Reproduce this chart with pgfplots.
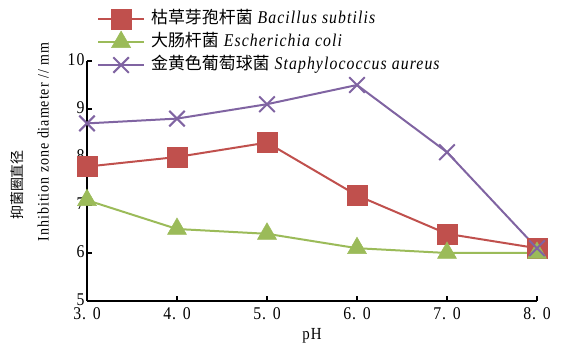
\documentclass[border=0pt]{standalone}
\usepackage{pgfplots}
\pgfplotsset{compat=1.18}
\usepackage{fontspec}
\setmainfont[FakeStretch=0.88, LetterSpace=6]{Liberation Serif}
\newfontfamily\cjk{Noto Sans CJK SC}
\definecolor{cred}{HTML}{C0504D}
\definecolor{cgreen}{HTML}{9BBB59}
\definecolor{cpurple}{HTML}{8064A2}

\begin{document}
\begin{tikzpicture}
\useasboundingbox (-87bp,-43bp) rectangle (482bp,301bp);
\begin{axis}[
  scale only axis, width=450bp, height=240bp,
  at={(0,0)}, anchor=south west,
  xmin=3, xmax=8, ymin=5, ymax=10,
  axis lines=left,
  axis line style={-, line width=1.4bp, black},
  tick align=inside, major tick length=5bp,
  tick style={black, line width=1.1bp},
  xtick={3,4,5,6,7,8},
  xticklabels={3. 0,4. 0,5. 0,6. 0,7. 0,8. 0},
  ytick={5,6,7,8,9,10},
  /pgf/number format/assume math mode=true,
  tick label style={font=\fontsize{18}{18}\selectfont},
  xticklabel style={yshift=-3bp},
  yticklabel style={xshift=1bp, yshift=1.5bp},
  xlabel={pH},
  xlabel style={font=\fontsize{17}{17}\selectfont, yshift=-2bp},
  ylabel={{\cjk\fontsize{14}{14}\selectfont 抑菌圈直径}\hspace*{86bp}\\Inhibition zone diameter // mm},
  ylabel style={at={(axis description cs:-0.1267,0.6625)}, anchor=center,
    align=center, font=\fontsize{16}{26}\selectfont},
  clip=false, axis on top,
  legend style={draw=none, fill=none, at={(axis description cs:0.022,1.079)},
    anchor=west, inner sep=0pt, row sep=0pt,
    font=\fontsize{18}{18}\selectfont,
    nodes={inner ysep=3bp, inner xsep=6bp, text height=13bp, text depth=4bp}},
  legend cell align=left,
  legend image code/.code={\draw[mark repeat=2, mark phase=2, #1]
    plot coordinates {(0bp,0bp) (23bp,0bp) (46bp,0bp)};},
]
\addplot[cred, line width=2bp, mark=square*, mark size=10bp,
  mark options={fill=cred, draw=cred, line width=0.5bp}]
  coordinates {(3,7.8) (4,8.0) (5,8.3) (6,7.2) (7,6.4) (8,6.1)};
\addlegendentry{{\cjk\fontsize{17}{17}\selectfont 枯草芽孢杆菌} \textit{Bacillus subtilis}}
\addplot[cgreen, line width=2bp, mark=triangle*, mark size=11bp,
  mark options={fill=cgreen, draw=cgreen, line width=0.5bp}]
  coordinates {(3,7.1) (4,6.5) (5,6.4) (6,6.1) (7,6.0) (8,6.0)};
\addlegendentry{{\cjk\fontsize{17}{17}\selectfont 大肠杆菌} \textit{Escherichia coli}}
\addplot[cpurple, line width=2bp, mark=x, mark size=11bp,
  mark options={draw=cpurple, line width=2bp}]
  coordinates {(3,8.7) (4,8.8) (5,9.1) (6,9.5) (7,8.1) (8,6.1)};
\addlegendentry{{\cjk\fontsize{17}{17}\selectfont 金黄色葡萄球菌} \textit{Staphylococcus aureus}}
\end{axis}
\end{tikzpicture}
\end{document}
